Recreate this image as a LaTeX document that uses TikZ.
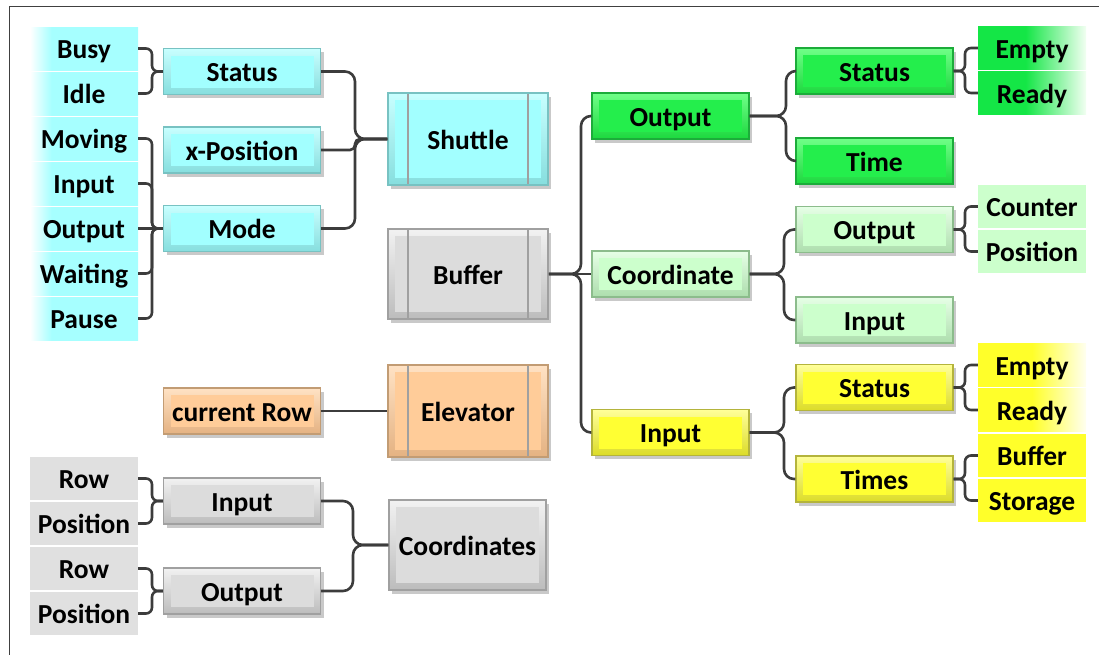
\documentclass[tikz,border=0pt]{standalone}
\usepackage{fontspec}
\setmainfont{Carlito}
\usetikzlibrary{shadows}

% palette
\definecolor{cyanLeaf}{HTML}{A6FFFF}
\definecolor{cyanF}{HTML}{A2FFFF}
\definecolor{cyanT}{HTML}{C8FFFF}
\definecolor{cyanD}{HTML}{86DEDE}
\definecolor{cyanB}{HTML}{78C2C2}
\definecolor{greenLeaf}{HTML}{14E646}
\definecolor{greenWhite}{HTML}{F2FFF2}
\definecolor{greenF}{HTML}{24EE4C}
\definecolor{greenT}{HTML}{70FF88}
\definecolor{greenD}{HTML}{1CD83E}
\definecolor{greenB}{HTML}{1CAC3A}
\definecolor{lgLeaf}{HTML}{CCFFCC}
\definecolor{lgF}{HTML}{CCFFCC}
\definecolor{lgT}{HTML}{E6FFE6}
\definecolor{lgD}{HTML}{ADDEAD}
\definecolor{lgB}{HTML}{8CBC8C}
\definecolor{yellowLeaf}{HTML}{FFFF2A}
\definecolor{yellowWhite}{HTML}{FFFFF0}
\definecolor{yellowF}{HTML}{FFFF33}
\definecolor{yellowT}{HTML}{FFFF99}
\definecolor{yellowD}{HTML}{DCDC28}
\definecolor{yellowB}{HTML}{B4B43C}
\definecolor{orangeF}{HTML}{FFCC99}
\definecolor{orangeT}{HTML}{FFE2C4}
\definecolor{orangeD}{HTML}{E4B282}
\definecolor{orangeB}{HTML}{C29C74}
\definecolor{grayLeaf}{HTML}{E0E0E0}
\definecolor{grayF}{HTML}{DCDCDC}
\definecolor{grayT}{HTML}{F2F2F2}
\definecolor{grayD}{HTML}{BCBCBC}
\definecolor{grayB}{HTML}{A0A0A0}
\definecolor{sepC}{HTML}{A0A0A0}
\definecolor{connC}{HTML}{3C3C3C}
\definecolor{frameC}{HTML}{404040}

% leaf fills fading to white
\pgfdeclarehorizontalshading{leafcyan}{100bp}{color(0bp)=(white); color(25bp)=(white); color(35bp)=(cyanLeaf); color(100bp)=(cyanLeaf)}
\pgfdeclarehorizontalshading{leafgreen}{100bp}{color(0bp)=(greenLeaf); color(47bp)=(greenLeaf); color(75bp)=(greenWhite); color(100bp)=(greenWhite)}
\pgfdeclarehorizontalshading{leafyellow}{100bp}{color(0bp)=(yellowLeaf); color(50bp)=(yellowLeaf); color(75bp)=(yellowWhite); color(100bp)=(yellowWhite)}

\tikzset{
  every node/.style={font=\bfseries\fontsize{27.5}{30}\selectfont, text=black, inner sep=0pt,
    text height=21pt, text depth=0.5pt},
  leaf/.style={minimum width=108pt, minimum height=43pt},
  cyanleaf/.style={leaf, shade, shading=leafcyan},
  greenleaf/.style={leaf, shade, shading=leafgreen},
  yellowfade/.style={leaf, shade, shading=leafyellow},
  yellowleaf/.style={leaf, fill=yellowLeaf},
  lgleaf/.style={leaf, fill=lgLeaf},
  grayleaf/.style={leaf, fill=grayLeaf},
  boxshadow/.style={drop shadow={shadow xshift=3pt, shadow yshift=-3.5pt, opacity=0.3, fill=black!70}},
  panel/.style={path picture={\fill[#1] ([shift={(7pt,7pt)}]path picture bounding box.south west) rectangle ([shift={(-7pt,-7pt)}]path picture bounding box.north east);}},
  ruledpanel/.style={path picture={
    \fill[#1] ([shift={(7pt,7pt)}]path picture bounding box.south west) rectangle ([shift={(-7pt,-7pt)}]path picture bounding box.north east);
    \draw[sepC, line width=1.5pt] ([xshift=20pt]path picture bounding box.north west) -- ([xshift=20pt]path picture bounding box.south west);
    \draw[sepC, line width=1.5pt] ([xshift=-20pt]path picture bounding box.north east) -- ([xshift=-20pt]path picture bounding box.south east);}},
  midbox/.style={minimum width=157pt, minimum height=46pt, line width=1.3pt, boxshadow},
  bigbox/.style={minimum width=160pt, minimum height=92pt, line width=1.5pt, boxshadow},
  cyanbox/.style={draw=cyanB, top color=cyanT, bottom color=cyanD},
  greenbox/.style={draw=greenB, top color=greenT, bottom color=greenD, panel=greenF},
  lgbox/.style={draw=lgB, top color=lgT, bottom color=lgD, panel=lgF},
  yellowbox/.style={draw=yellowB, top color=yellowT, bottom color=yellowD, panel=yellowF},
  orangebox/.style={draw=orangeB, top color=orangeT, bottom color=orangeD},
  graybox/.style={draw=grayB, top color=grayT, bottom color=grayD},
  connector/.style={draw=connC, line width=2.6pt},
}

% branch from a node on the left to a node on the right through a vertical trunk
\newcommand\branch[4][10pt]{\draw[connector, rounded corners=#1] (#2.east) -- (#4 |- #2.east) -- (#4 |- #3.west) -- (#3.west);}

\begin{document}
\begin{tikzpicture}[x=1pt, y=-1pt]
\useasboundingbox (0,0) rectangle (1099,654);
\draw[frameC, line width=1.5pt] (9.5,6.5) rectangle (1130,690);

% ---- Shuttle group ----
\node[cyanleaf] (busy)    at (84,48.5)  {Busy};
\node[cyanleaf] (idle)    at (84,93.5)  {Idle};
\node[cyanleaf] (moving)  at (84,138.5) {Moving};
\node[cyanleaf] (minput)  at (84,183.5) {Input};
\node[cyanleaf] (moutput) at (84,228.5) {Output};
\node[cyanleaf] (waiting) at (84,273.5) {Waiting};
\node[cyanleaf] (pause)   at (84,318.5) {Pause};

\node[midbox, cyanbox, panel=cyanF] (sstatus) at (242,71.5)  {Status};
\node[midbox, cyanbox, panel=cyanF] (xpos)    at (242,150)   {x-Position};
\node[midbox, cyanbox, panel=cyanF] (mode)    at (242,228.5) {Mode};
\node[bigbox, cyanbox, ruledpanel=cyanF] (shuttle) at (468,139) {Shuttle};

% ---- Buffer ----
\node[bigbox, graybox, minimum height=90pt, ruledpanel=grayF] (buffer) at (468,274) {Buffer};

% ---- Elevator group ----
\node[midbox, orangebox, panel=orangeF] (currow) at (242,411) {current Row};
\node[bigbox, orangebox, ruledpanel=orangeF] (elevator) at (468,411) {Elevator};

% ---- Coordinates group ----
\node[grayleaf] (row1) at (84,478.5) {Row};
\node[grayleaf] (pos1) at (84,523.5) {Position};
\node[grayleaf] (row2) at (84,568.5) {Row};
\node[grayleaf] (pos2) at (84,613.5) {Position};
\node[midbox, graybox, panel=grayF] (cinput)  at (242,501) {Input};
\node[midbox, graybox, panel=grayF] (coutput) at (242,591) {Output};
\node[bigbox, graybox, minimum width=157pt, minimum height=90pt, panel=grayF] (coords) at (467.5,545) {Coordinates};

% ---- Buffer: Output ----
\node[midbox, greenbox] (boutput) at (670.5,116) {Output};
\node[midbox, greenbox] (ostatus) at (874.5,71)  {Status};
\node[midbox, greenbox] (otime)   at (874.5,161) {Time};
\node[greenleaf] (oempty) at (1032,48) {Empty};
\node[greenleaf] (oready) at (1032,93) {Ready};

% ---- Buffer: Coordinate ----
\node[midbox, lgbox] (bcoord)  at (670.5,274)   {Coordinate};
\node[midbox, lgbox] (coordout) at (874.5,229.5) {Output};
\node[midbox, lgbox] (coordin)  at (874.5,320)   {Input};
\node[lgleaf] (counter)  at (1032,206.5) {Counter};
\node[lgleaf] (position) at (1032,251.5) {Position};

% ---- Buffer: Input ----
\node[midbox, yellowbox] (binput)  at (670.5,432.5) {Input};
\node[midbox, yellowbox] (istatus) at (874.5,387.5) {Status};
\node[midbox, yellowbox] (itimes)  at (874.5,479)   {Times};
\node[yellowfade] (iempty)   at (1032,365)   {Empty};
\node[yellowfade] (iready)   at (1032,410)   {Ready};
\node[yellowleaf] (ibuffer)  at (1032,455.5) {Buffer};
\node[yellowleaf] (istorage) at (1032,500.5) {Storage};

% trunk positions
\coordinate (tLeaf)   at (152,0);
\coordinate (tShut)   at (355,0);
\coordinate (tCoord)  at (353,0);
\coordinate (tBuf)    at (581,0);
\coordinate (tOut)    at (786,0);
\coordinate (tCrd)    at (784,0);
\coordinate (tIn)     at (784,0);
\coordinate (tRight)  at (965,0);

% ---- connectors ----
\branch[6pt]{busy}{sstatus}{tLeaf}
\branch[6pt]{idle}{sstatus}{tLeaf}
\branch[6pt]{moving}{mode}{tLeaf}
\branch[6pt]{minput}{mode}{tLeaf}
\draw[connector] (moutput.east) -- (mode.west);
\branch[6pt]{waiting}{mode}{tLeaf}
\branch[6pt]{pause}{mode}{tLeaf}

\branch{sstatus}{shuttle}{tShut}
\branch[5pt]{xpos}{shuttle}{tShut}
\branch{mode}{shuttle}{tShut}

\draw[connector] (currow.east) -- (elevator.west);

\branch[6pt]{row1}{cinput}{tLeaf}
\branch[6pt]{pos1}{cinput}{tLeaf}
\branch[6pt]{row2}{coutput}{tLeaf}
\branch[6pt]{pos2}{coutput}{tLeaf}
\branch{cinput}{coords}{tCoord}
\branch{coutput}{coords}{tCoord}

\branch{buffer}{boutput}{tBuf}
\draw[connector] (buffer.east) -- (bcoord.west);
\branch{buffer}{binput}{tBuf}

\branch{boutput}{ostatus}{tOut}
\branch{boutput}{otime}{tOut}
\branch[6pt]{ostatus}{oempty}{tRight}
\branch[6pt]{ostatus}{oready}{tRight}

\branch{bcoord}{coordout}{tCrd}
\branch{bcoord}{coordin}{tCrd}
\branch[6pt]{coordout}{counter}{tRight}
\branch[6pt]{coordout}{position}{tRight}

\branch{binput}{istatus}{tIn}
\branch{binput}{itimes}{tIn}
\branch[6pt]{istatus}{iempty}{tRight}
\branch[6pt]{istatus}{iready}{tRight}
\branch[6pt]{itimes}{ibuffer}{tRight}
\branch[6pt]{itimes}{istorage}{tRight}
\end{tikzpicture}
\end{document}
